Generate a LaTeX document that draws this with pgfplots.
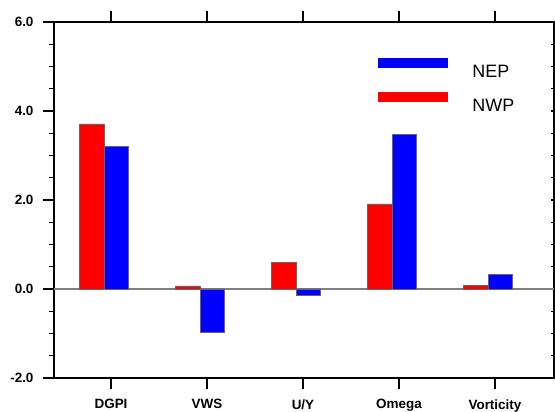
\documentclass[border=0pt]{standalone}
\usepackage{pgfplots}
\pgfplotsset{compat=1.18}
\usepackage{fontspec}
\setmainfont{Liberation Sans}
\definecolor{barred}{RGB}{255,0,0}
\definecolor{barblue}{RGB}{0,0,255}
\begin{document}
\begin{tikzpicture}
\begin{axis}[
  at={(0,0)}, anchor=south west,
  width=500bp, height=356bp, scale only axis,
  xmin=-0.594, xmax=4.615,
  ymin=-2, ymax=6,
  hide x axis,
  axis y line*=right,
  ytick={-2,0,2,4,6},
  minor y tick num=3,
  yticklabels={},
  tick align=inside,
  major tick length=3bp,
  minor tick length=3bp,
  every tick/.style={black, line width=1.4bp},
  axis line style={black, line width=1.6bp, -},
]
\addplot[draw=none] coordinates {(0,0)};
\end{axis}
\begin{axis}[
  name=ax,
  at={(0,0)}, anchor=south west,
  width=500bp, height=356bp, scale only axis,
  xmin=-0.594, xmax=4.615,
  ymin=-2, ymax=6,
  xtick={0,1,2,3,4},
  xticklabels={DGPI,VWS,U/Y,Omega,Vorticity},
  ytick={-2,0,2,4,6},
  minor y tick num=3,
  ytick pos=left,
  xtick pos=both,
  tick align=outside,
  major tick length=11bp,
  minor tick length=5bp,
  every tick/.style={black, line width=1.4bp},
  axis line style={black, line width=1.6bp},
  /pgf/number format/assume math mode=true,
  yticklabel style={/pgf/number format/fixed, /pgf/number format/fixed zerofill, /pgf/number format/precision=1, xshift=-6bp},
  ticklabel style={font=\bfseries\fontsize{13.5}{13.5}\selectfont},
  xticklabel style={yshift=-7bp},
  ybar, bar width=0.255, bar shift=0pt,
  legend style={draw=none, fill=none, at={(321bp,322bp)}, anchor=north west,
    font=\fontsize{18}{18}\selectfont, row sep=11bp,
    /tikz/every odd column/.append style={column sep=18bp}},
  legend cell align=left,
  reverse legend,
]
\addplot[forget plot, sharp plot, draw=gray, line width=1.3bp] coordinates {(-0.594,0) (4.615,0)};
\addplot[fill=barred, draw=black!60, line width=0.5bp,
  legend image code/.code={\fill[barred] (0bp,4.5bp) rectangle (69bp,13.5bp); \path[draw=none, fill=none] (0bp,9bp) -- (74bp,9bp);}] coordinates {
  (-0.2,3.71) (0.8,0.07) (1.8,0.59) (2.8,1.91) (3.8,0.08)};
\addplot[fill=barblue, draw=black!60, line width=0.5bp,
  legend image code/.code={\fill[barblue] (0bp,4.5bp) rectangle (69bp,13.5bp); \path[draw=none, fill=none] (0bp,9bp) -- (74bp,9bp);}] coordinates {
  (0.055,3.21) (1.055,-0.98) (2.055,-0.13) (3.055,3.48) (4.055,0.33)};
\legend{NWP,NEP}
\end{axis}
\pgfresetboundingbox
\path[use as bounding box] ([xshift=-54bp,yshift=-34bp]ax.south west) rectangle ([xshift=1bp,yshift=22bp]ax.north east);
\end{tikzpicture}
\end{document}
